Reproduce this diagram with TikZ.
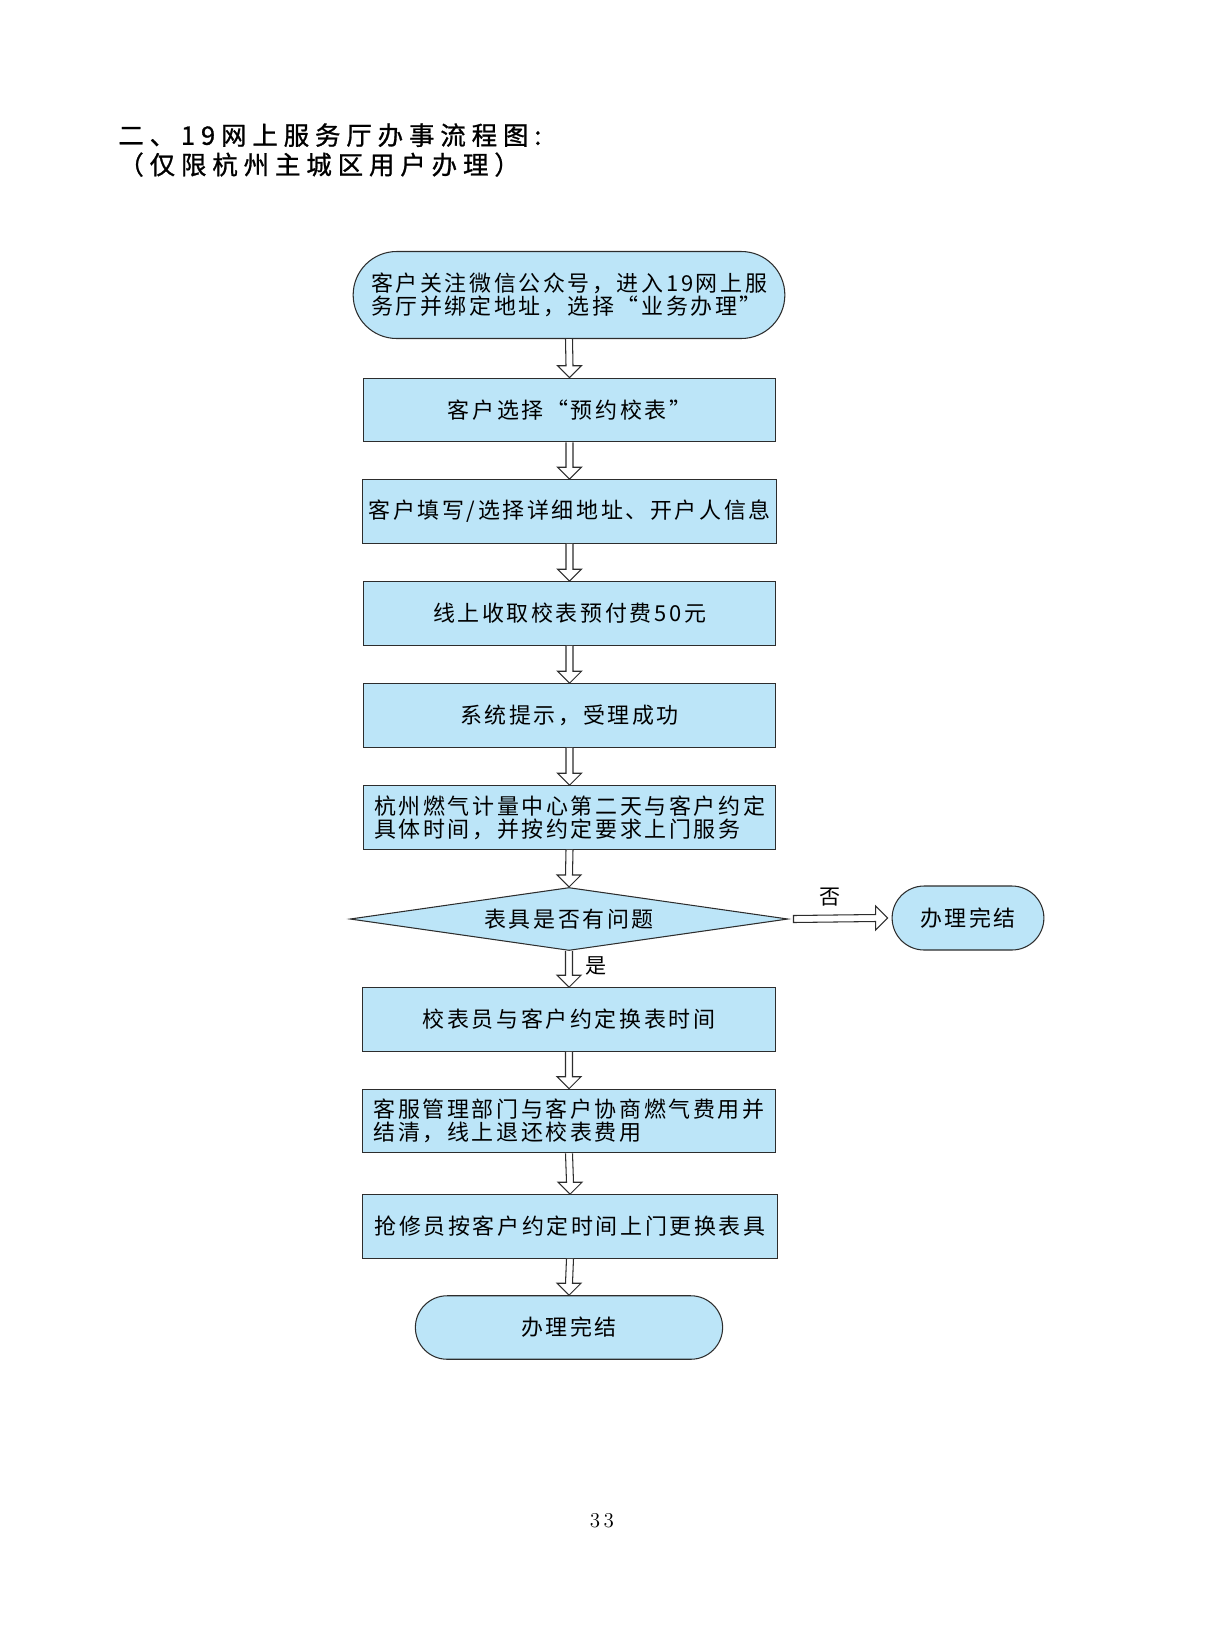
\documentclass[tikz,border=0pt]{standalone}
\usepackage{fontspec}
\newfontfamily\cjk[LetterSpace=12]{Noto Sans CJK SC}
\newfontfamily\cjktitle[LetterSpace=23,FakeBold=1]{Noto Sans CJK SC}
\usetikzlibrary{ shapes.geometric, % For the decision diamond
                 shapes.misc,      % For rounded rectangles
                 calc,
                 positioning,
               }
\definecolor{boxblue}{RGB}{188,229,248}
\definecolor{linegray}{RGB}{45,45,45}
\tikzstyle{process} = [rectangle, draw=linegray, fill=boxblue, line width=0.6pt,
                       minimum width=8.26cm, minimum height=1.27cm, align=left,
                       font=\cjk\fontsize{12.5}{13}\selectfont]
\tikzstyle{terminal} = [process, rounded rectangle]
\tikzstyle{decision} = [process, diamond, aspect=7, inner sep=0pt,
                        minimum width=8.76cm, minimum height=1.26cm]
\tikzstyle{hollow} = [draw=linegray, line width=0.6pt, fill=white, line join=miter]
\tikzstyle{tag} = [font=\cjk\fontsize{12}{13}\selectfont, inner sep=0pt]

% hollow block arrows between two named nodes
\newcommand{\flowdown}[2]{%
  \draw[hollow] ($(#1.south)+(-3.5,0)$) -- ($(#2.north)+(-3.5,-12)$)
    -- ($(#2.north)+(-12,-12)$) -- (#2.north) -- ($(#2.north)+(12,-12)$)
    -- ($(#2.north)+(3.5,-12)$) -- ($(#1.south)+(3.5,0)$);}
\newcommand{\flowright}[2]{%
  \coordinate (s) at ($(#1.east)+(5,0)$);
  \coordinate (e) at ($(#2.west)+(-4,0)$);
  \draw[hollow] ($(s)+(0,-3.5)$) -- ($(e)+(-12,-3.5)$) -- ($(e)+(-12,-12)$) -- (e)
    -- ($(e)+(-12,12)$) -- ($(e)+(-12,3.5)$) -- ($(s)+(0,3.5)$) -- cycle;}

\begin{document}
\begin{tikzpicture}[x=0.02cm, y=-0.02cm]
  \useasboundingbox (0,0) rectangle (1204,1647);

  \node (title) [anchor=north west, inner sep=0pt, align=left,
                 font=\cjktitle\fontsize{14.5}{16.8}\selectfont] at (118,123)
        {二、19网上服务厅办事流程图:\\（仅限杭州主城区用户办理）};

  \node (start) [terminal, minimum width=8.87cm, minimum height=1.74cm] at (569, 295)
        {客户关注微信公众号，进入19网上服\\务厅并绑定地址，选择“业务办理”};
  \node (b1) [process] at (569.5, 410) {客户选择“预约校表”};
  \node (b2) [process] at (569.5, 511.5) {客户填写/选择详细地址、开户人信息};
  \node (b3) [process] at (569.5, 613.5) {线上收取校表预付费50元};
  \node (b4) [process] at (569.5, 715.5) {系统提示，受理成功};
  \node (b5) [process] at (569.5, 817.5)
        {杭州燃气计量中心第二天与客户约定\\具体时间，并按约定要求上门服务};
  \node (check) [decision] at (569, 919) {表具是否有问题};
  \node (done1) [terminal, minimum width=3.27cm, minimum height=1.28cm] at (968, 918) {办理完结};
  \node (b6) [process] at (569, 1019.5) {校表员与客户约定换表时间};
  \node (b7) [process] at (569, 1121)
        {客服管理部门与客户协商燃气费用并\\结清，线上退还校表费用};
  \node (b8) [process, minimum width=8.3cm] at (570, 1226.5) {抢修员按客户约定时间上门更换表具};
  \node (done2) [terminal, minimum width=6.38cm, minimum height=1.27cm] at (569, 1327.5) {办理完结};

  \flowdown{start}{b1}
  \flowdown{b1}{b2}
  \flowdown{b2}{b3}
  \flowdown{b3}{b4}
  \flowdown{b4}{b5}
  \flowdown{b5}{check}
  \flowdown{check}{b6}
  \flowdown{b6}{b7}
  \flowdown{b7}{b8}
  \flowdown{b8}{done2}
  \flowright{check}{done1}

  \node (no) [tag] at (830, 897) {否};
  \node (yes) [tag] at (596, 966) {是};

  \node (page) [font=\fontsize{12}{14}\selectfont] at (602, 1521) {3\,3};
\end{tikzpicture}
\end{document}
